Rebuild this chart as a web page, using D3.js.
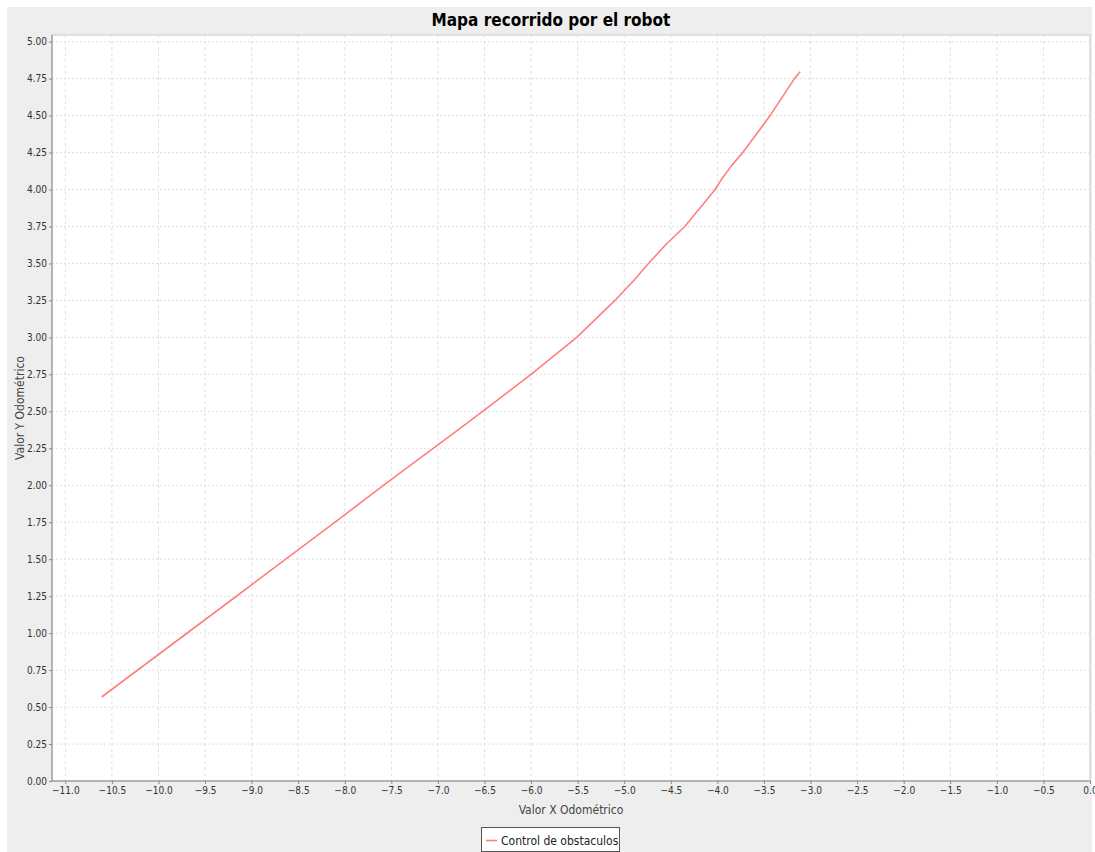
<!DOCTYPE html>
<html>
<head>
<meta charset="utf-8">
<script src="https://cdn.jsdelivr.net/npm/d3@7"></script>
<style>
  html, body { margin: 0; padding: 0; background: #ffffff; }
  svg { display: block; }
  text { font-family: "DejaVu Sans Condensed", "DejaVu Sans", sans-serif; }
</style>
</head>
<body>
<svg id="chart" width="1095" height="852"></svg>
<script>
// ---- data ----
const title = "Mapa recorrido por el robot";
const xLabel = "Valor X Odométrico";
const yLabel = "Valor Y Odométrico";
const seriesName = "Control de obstaculos";

const xValues = [-10.61, -9.124, -8.634, -8.104, -7.586, -6.762, -6.52, -6.0, -5.51, -5.10, -4.89, -4.74, -4.55, -4.35, -4.024, -3.95, -3.85, -3.727, -3.434, -3.173, -3.112];
const yValues = [0.568, 1.268, 1.5, 1.75, 2.0, 2.384, 2.5, 2.75, 3.0, 3.25, 3.39, 3.5, 3.63, 3.75, 4.0, 4.075, 4.16, 4.25, 4.5, 4.75, 4.797];

const xTicks = d3.range(0, 23).map(i => -11 + i * 0.5);
const yTicks = d3.range(0, 21).map(i => i * 0.25);

// ---- layout ----
const svg = d3.select("#chart");
const plot = { left: 52, top: 35, right: 1090, bottom: 781 };

svg.append("rect").attr("x", 7).attr("y", 7).attr("width", 1085).attr("height", 845).attr("fill", "#eeeeee");

const x = d3.scaleLinear().domain([-11.143, 0]).range([plot.left, plot.right]);
const y = d3.scaleLinear().domain([0, 5.045]).range([plot.bottom, plot.top]);

svg.append("rect").attr("x", plot.left).attr("y", plot.top)
  .attr("width", plot.right - plot.left).attr("height", plot.bottom - plot.top)
  .attr("fill", "#ffffff").attr("stroke", "#c8c8c8").attr("stroke-width", 1);

// gridlines
const grid = svg.append("g");
grid.selectAll("line.v").data(xTicks).enter().append("line")
  .attr("x1", d => x(d)).attr("x2", d => x(d)).attr("y1", plot.top).attr("y2", plot.bottom)
  .attr("stroke", "#e0e0e0").attr("stroke-width", 1).attr("stroke-dasharray", "3,3");
grid.selectAll("line.h").data(yTicks).enter().append("line")
  .attr("y1", d => y(d)).attr("y2", d => y(d)).attr("x1", plot.left).attr("x2", plot.right)
  .attr("stroke", "#e0e0e0").attr("stroke-width", 1).attr("stroke-dasharray", "2,2");

// axes
const xAxis = d3.axisBottom(x).tickValues(xTicks).tickFormat(d3.format(".1f")).tickSize(3).tickSizeOuter(0).tickPadding(3);
const yAxis = d3.axisLeft(y).tickValues(yTicks).tickFormat(d3.format(".2f")).tickSize(3).tickSizeOuter(0).tickPadding(2);

const gx = svg.append("g").attr("transform", `translate(0,${plot.bottom})`).call(xAxis);
const gy = svg.append("g").attr("transform", `translate(${plot.left},0)`).call(yAxis);
[gx, gy].forEach(g => {
  g.select(".domain").attr("stroke", "#888888");
  g.selectAll(".tick line").attr("stroke", "#888888");
  g.selectAll(".tick text").attr("fill", "#333333").style("font-size", "10px")
    .style("font-family", '"DejaVu Sans Condensed", "DejaVu Sans", sans-serif');
});
gx.select(".domain").attr("d", `M${plot.left},0H${plot.right}`);
gy.select(".domain").attr("d", `M0,${plot.bottom}V${plot.top}`);

// line
const line = d3.line().x((d, i) => x(xValues[i])).y((d, i) => y(yValues[i]));
svg.append("path").datum(xValues).attr("d", line)
  .attr("fill", "none").attr("stroke", "#ff7f7f").attr("stroke-width", 1.6)
  .attr("stroke-linejoin", "round");

// title
svg.append("text").attr("x", 551).attr("y", 26).attr("text-anchor", "middle")
  .style("font-size", "17px").style("font-weight", "bold").attr("fill", "#000")
  .text(title);

// axis labels
svg.append("text").attr("x", (plot.left + plot.right) / 2).attr("y", 814).attr("text-anchor", "middle")
  .style("font-size", "12px").attr("fill", "#444").text(xLabel);
svg.append("text").attr("transform", `translate(24,${(plot.top + plot.bottom) / 2}) rotate(-90)`)
  .attr("text-anchor", "middle").style("font-size", "12px").attr("fill", "#444").text(yLabel);

// legend
const lg = svg.append("g");
lg.append("rect").attr("x", 481.5).attr("y", 827.5).attr("width", 138).attr("height", 24)
  .attr("fill", "#ffffff").attr("stroke", "#555555").attr("stroke-width", 1);
lg.append("line").attr("x1", 486).attr("x2", 497).attr("y1", 840.5).attr("y2", 840.5)
  .attr("stroke", "#ff7f7f").attr("stroke-width", 1.6);
lg.append("text").attr("x", 501).attr("y", 844.5).style("font-size", "12px").attr("fill", "#222")
  .text(seriesName);
</script>
</body>
</html>
